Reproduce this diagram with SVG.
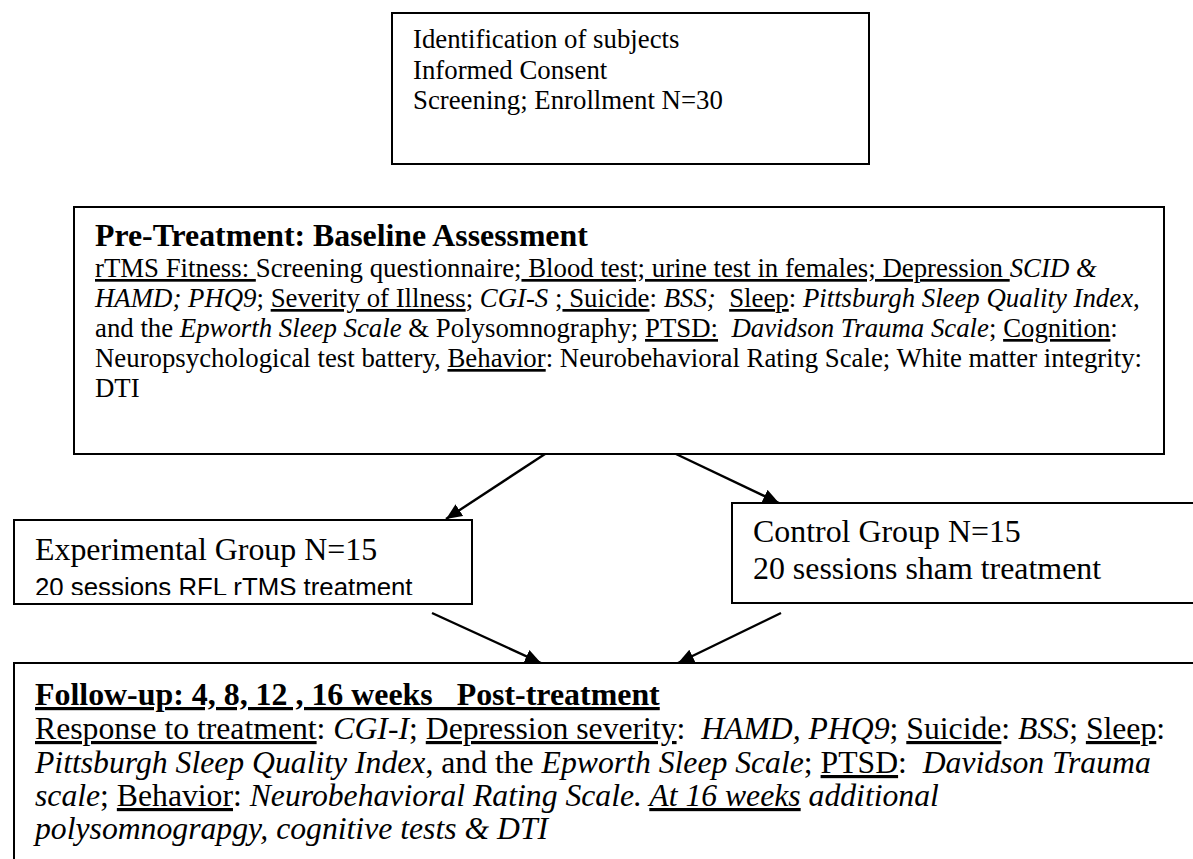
<svg xmlns="http://www.w3.org/2000/svg" width="1193" height="859" viewBox="0 0 1193 859">
<style>
text{font-family:"Liberation Serif","Times New Roman",serif;fill:#000;white-space:pre}
.b12{font-size:26.8px}
.b15{font-size:31.9px}
.fu{font-size:31.7px}
.t14{font-size:31.8px;font-weight:bold}
.t15{font-size:31.9px;font-weight:bold}
.sans{font-family:"Liberation Sans",Arial,sans-serif;font-size:25.8px}
.i{font-style:italic}
.u{text-decoration:underline}
.box{fill:#fff;stroke:#000;stroke-width:2}
.conn{stroke:#000;stroke-width:2.4;fill:none}
</style>
<defs>
<marker id="ah" viewBox="0 0 16 14" refX="16" refY="7" markerWidth="16" markerHeight="14" markerUnits="userSpaceOnUse" orient="auto">
<path d="M0,0 L16,7 L0,14 z" fill="#000"/>
</marker>
<clipPath id="expclip"><rect x="14" y="520" width="458" height="75"/></clipPath>
</defs>
<rect width="1193" height="859" fill="#fff"/>

<g id="n-identification">
<rect class="box" x="392" y="13" width="477" height="151"/>
<text class="b12" x="413" y="48" xml:space="preserve">Identification of subjects</text>
<text class="b12" x="413" y="79" xml:space="preserve">Informed Consent</text>
<text class="b12" x="413" y="109" xml:space="preserve">Screening; Enrollment N=30</text>
</g>

<g id="n-baseline">
<rect class="box" x="74" y="207" width="1090" height="247"/>
<text class="t14" x="95" y="246" xml:space="preserve">Pre-Treatment: Baseline Assessment</text>
<text class="b12" x="95" y="277" xml:space="preserve"><tspan class="u">rTMS Fitness: </tspan>Screening questionnaire;<tspan class="u"> Blood test; urine test in females; Depression </tspan><tspan class="i">SCID &amp;</tspan></text>
<text class="b12" x="95" y="307" xml:space="preserve"><tspan class="i">HAMD; PHQ9</tspan>; <tspan class="u">Severity of Illness</tspan>; <tspan class="i">CGI-S</tspan> ;<tspan class="u"> Suicide</tspan>: <tspan class="i">BSS;</tspan>  <tspan class="u">Sleep</tspan>: <tspan class="i">Pittsburgh Sleep Quality Index</tspan>,</text>
<text class="b12" x="95" y="337" xml:space="preserve">and the <tspan class="i">Epworth Sleep Scale</tspan> &amp; Polysomnography; <tspan class="u">PTSD:</tspan>  <tspan class="i">Davidson Trauma Scale</tspan>; <tspan class="u">Cognition</tspan>:</text>
<text class="b12" x="95" y="367" xml:space="preserve">Neuropsychological test battery, <tspan class="u">Behavior</tspan>: Neurobehavioral Rating Scale; White matter integrity:</text>
<text class="b12" x="95" y="397" xml:space="preserve">DTI</text>
</g>

<g id="n-experimental">
<rect class="box" x="14" y="520" width="458" height="84"/>
<text class="b15" x="35" y="560" xml:space="preserve">Experimental Group N=15</text>
<text class="sans" x="35" y="595.5" clip-path="url(#expclip)" xml:space="preserve">20 sessions RFL rTMS treatment</text>
</g>

<g id="n-control">
<rect class="box" x="732" y="503" width="480" height="100"/>
<text class="b15" x="753" y="542" xml:space="preserve">Control Group N=15</text>
<text class="b15" x="753" y="579" xml:space="preserve">20 sessions sham treatment</text>
</g>

<g id="n-followup">
<rect class="box" x="14" y="663" width="1200" height="210"/>
<text class="t15 u" x="35" y="705" xml:space="preserve">Follow-up: 4, 8, 12 , 16 weeks   Post-treatment</text>
<text class="fu" x="35" y="739" xml:space="preserve"><tspan class="u">Response to treatment</tspan>: <tspan class="i">CGI-I</tspan>; <tspan class="u">Depression severity</tspan>:  <tspan class="i">HAMD, PHQ9</tspan>; <tspan class="u">Suicide</tspan>: <tspan class="i">BSS</tspan>; <tspan class="u">Sleep</tspan>:</text>
<text class="fu" x="35" y="773" xml:space="preserve"><tspan class="i">Pittsburgh Sleep Quality Index</tspan>, and the <tspan class="i">Epworth Sleep Scale</tspan>; <tspan class="u">PTSD</tspan>:  <tspan class="i">Davidson Trauma</tspan></text>
<text class="fu" x="35" y="806" xml:space="preserve"><tspan class="i">scale</tspan>; <tspan class="u">Behavior</tspan>: <tspan class="i">Neurobehavioral Rating Scale. </tspan><tspan class="i u">At 16 weeks</tspan><tspan class="i"> additional</tspan></text>
<text class="fu i" x="35" y="839" xml:space="preserve">polysomnograpgy, cognitive tests &amp; DTI</text>
</g>

<g id="connectors">
<line class="conn" x1="545" y1="454" x2="446" y2="519" marker-end="url(#ah)"/>
<line class="conn" x1="676" y1="454" x2="779" y2="503" marker-end="url(#ah)"/>
<line class="conn" x1="432" y1="613" x2="541" y2="663" marker-end="url(#ah)"/>
<line class="conn" x1="781" y1="613" x2="678" y2="663" marker-end="url(#ah)"/>
</g>
</svg>
